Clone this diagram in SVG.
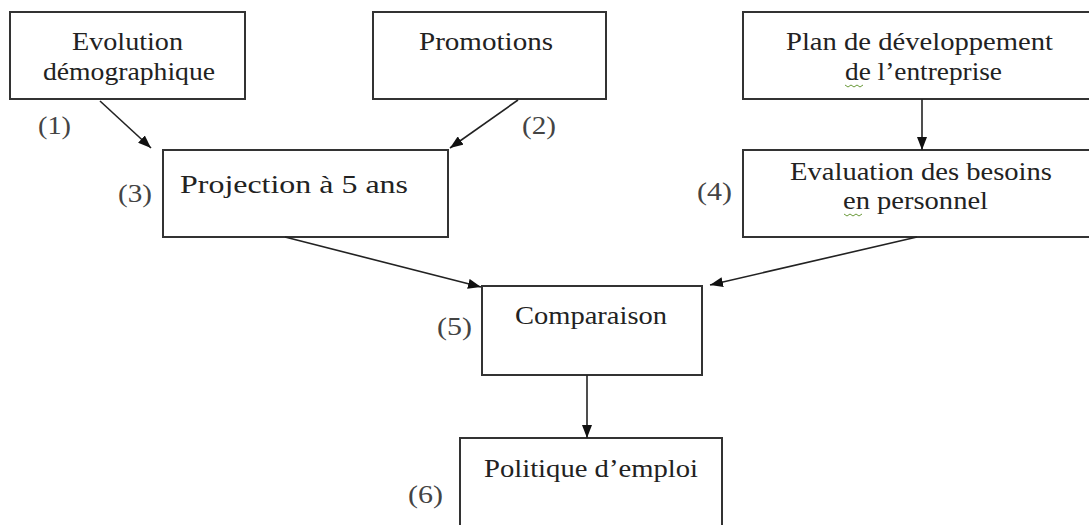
<svg xmlns="http://www.w3.org/2000/svg" width="1089" height="525" viewBox="0 0 1089 525">
<defs>
<marker id="ah" markerUnits="userSpaceOnUse" markerWidth="13" markerHeight="10" refX="13" refY="5" orient="auto">
<path d="M0,0 L13,5 L0,10 z" fill="#111"/>
</marker>
<style>
.box{fill:#fff;stroke:#333;stroke-width:2}
.t{font-family:"Liberation Serif","Times New Roman",serif;font-size:25px;fill:#222}
.n{font-family:"Liberation Serif","Times New Roman",serif;font-size:25px;fill:#444}
.c{stroke:#222;stroke-width:1.6;fill:none;marker-end:url(#ah)}
.sq{stroke:#6a9a3a;stroke-width:1;fill:none}
</style>
</defs>
<rect width="1089" height="525" fill="#fff"/>
<g id="n1">
<rect class="box" x="10" y="12" width="235" height="87"/>
<text class="t" x="72" y="50" textLength="111" lengthAdjust="spacingAndGlyphs">Evolution</text>
<text class="t" x="43" y="80" textLength="172" lengthAdjust="spacingAndGlyphs">démographique</text>
<text class="n" x="38" y="134" textLength="33" lengthAdjust="spacingAndGlyphs">(1)</text>
</g>
<g id="n2">
<rect class="box" x="373" y="12" width="233" height="87"/>
<text class="t" x="419" y="50" textLength="134" lengthAdjust="spacingAndGlyphs">Promotions</text>
<text class="n" x="522" y="134" textLength="34" lengthAdjust="spacingAndGlyphs">(2)</text>
</g>
<g id="n7">
<rect class="box" x="743" y="12" width="360" height="87"/>
<text class="t" x="786" y="50" textLength="267" lengthAdjust="spacingAndGlyphs">Plan de développement</text>
<text class="t" x="845" y="80" textLength="157" lengthAdjust="spacingAndGlyphs">de l’entreprise</text>
<path class="sq" d="M845,85 l3,2 l3,-2 l3,2 l3,-2 l3,2 l3,-2"/>
</g>
<g id="n3">
<rect class="box" x="163" y="150" width="285" height="87"/>
<text class="t" x="180" y="193" textLength="228" lengthAdjust="spacingAndGlyphs">Projection à 5 ans</text>
<text class="n" x="118" y="202" textLength="34" lengthAdjust="spacingAndGlyphs">(3)</text>
</g>
<g id="n4">
<rect class="box" x="743" y="150" width="360" height="87"/>
<text class="t" x="790" y="180" textLength="262" lengthAdjust="spacingAndGlyphs">Evaluation des besoins</text>
<text class="t" x="843" y="209" textLength="145" lengthAdjust="spacingAndGlyphs">en personnel</text>
<path class="sq" d="M844,214 l3,2 l3,-2 l3,2 l3,-2 l3,2 l3,-2"/>
<text class="n" x="697" y="200" textLength="35" lengthAdjust="spacingAndGlyphs">(4)</text>
</g>
<g id="n5">
<rect class="box" x="482" y="286" width="220" height="89"/>
<text class="t" x="515" y="324" textLength="152" lengthAdjust="spacingAndGlyphs">Comparaison</text>
<text class="n" x="437" y="335" textLength="35" lengthAdjust="spacingAndGlyphs">(5)</text>
</g>
<g id="n6">
<rect class="box" x="460" y="438" width="262" height="100"/>
<text class="t" x="484" y="477" textLength="214" lengthAdjust="spacingAndGlyphs">Politique d’emploi</text>
<text class="n" x="408" y="503" textLength="35" lengthAdjust="spacingAndGlyphs">(6)</text>
</g>
<g id="connectors">
<line class="c" x1="100" y1="101" x2="151" y2="148"/>
<line class="c" x1="518" y1="100" x2="450" y2="148"/>
<line class="c" x1="922" y1="99" x2="922" y2="150"/>
<line class="c" x1="285" y1="237" x2="481" y2="287"/>
<line class="c" x1="917" y1="237" x2="710" y2="285"/>
<line class="c" x1="587" y1="375" x2="587" y2="438"/>
</g>
</svg>
